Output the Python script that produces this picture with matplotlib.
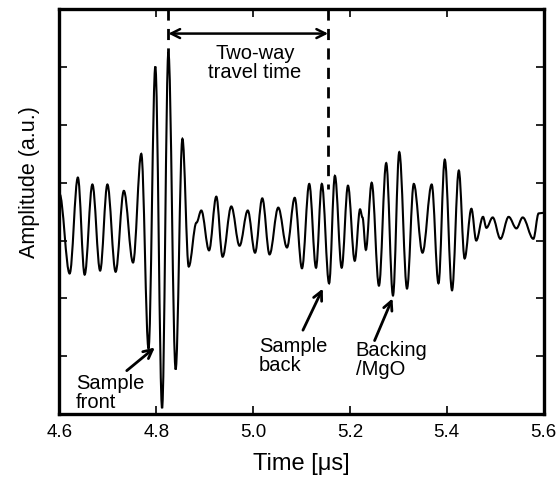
import numpy as np
import matplotlib
matplotlib.use("Agg")
import matplotlib.pyplot as plt
from matplotlib.path import Path
from matplotlib.patches import PathPatch

plt.rcParams['font.family'] = ['Liberation Sans', 'DejaVu Sans']

# waveform: extrema (and shoulders) of the trace
time_us = [4.600, 4.621, 4.638, 4.652, 4.668, 4.684, 4.699, 4.716, 4.733, 4.752,
           4.769, 4.784, 4.798, 4.812, 4.825, 4.840, 4.854, 4.867, 4.883, 4.893,
           4.909, 4.924, 4.937, 4.955, 4.972, 4.989, 5.004, 5.019, 5.034, 5.052,
           5.070, 5.086, 5.101, 5.116, 5.130, 5.142, 5.157, 5.169, 5.183, 5.196,
           5.210, 5.221, 5.226, 5.233, 5.245, 5.260, 5.275, 5.289, 5.302, 5.318,
           5.332, 5.350, 5.369, 5.383, 5.396, 5.411, 5.425, 5.437, 5.451, 5.461,
           5.475, 5.482, 5.495, 5.511, 5.528, 5.544, 5.557, 5.579, 5.590, 5.600]
amplitude = [0.81, -0.57, 1.09, -0.59, 0.97, -0.52, 0.97, -0.54, 0.86, -0.38,
             1.50, -1.87, 3.01, -2.90, 3.26, -2.23, 1.76, -0.45, 0.31, 0.52,
             -0.17, 0.76, -0.28, 0.59, -0.09, 0.52, -0.21, 0.73, -0.24, 0.57,
             -0.12, 0.74, -0.48, 0.98, -0.47, 0.98, -0.74, 1.12, -0.47, 0.95,
             -0.35, 0.54, 0.40, -0.16, 1.00, -0.78, 1.34, -0.95, 1.53, -0.83,
             0.98, -0.21, 0.97, -0.74, 1.40, -0.86, 1.21, -0.31, 0.55, 0.00,
             0.41, 0.22, 0.40, 0.03, 0.41, 0.21, 0.40, 0.03, 0.47, 0.48]

t_front = 4.825   # sample-front peak
t_back = 5.155    # sample-back trough
xticks = [4.6, 4.8, 5.0, 5.2, 5.4, 5.6]
xtick_labels = ['4.6', '4.8', '5.0', '5.2', '5.4', '5.6']
yticks = [-2, -1, 0, 1, 2, 3]


def smooth_trace(t, a):
    # cubic segments with flat tangents at each extremum
    verts = [(t[0], a[0])]
    codes = [Path.MOVETO]
    for i in range(len(t) - 1):
        dt = t[i + 1] - t[i]
        verts += [(t[i] + 0.36 * dt, a[i]), (t[i + 1] - 0.36 * dt, a[i + 1]),
                  (t[i + 1], a[i + 1])]
        codes += [Path.CURVE4] * 3
    return Path(verts, codes)


fig = plt.figure(figsize=(5.59, 4.84), dpi=100)
ax = fig.add_axes([0.1064, 0.1446, 0.8659, 0.8362])

ax.add_patch(PathPatch(smooth_trace(time_us, amplitude), facecolor='none',
                       edgecolor='black', lw=1.5, transform=ax.transData))

ax.set_xlim(4.6, 5.6)
ax.set_ylim(-3, 4)
ax.set_xticks(xticks)
ax.set_xticklabels(xtick_labels)
ax.set_yticks(yticks)
ax.set_yticklabels([])
ax.tick_params(direction='in', length=6, width=1.2, top=True, right=True,
               labelsize=13.5, pad=7)
for sp in ax.spines.values():
    sp.set_linewidth(2.4)

ax.set_xlabel('Time [μs]', fontsize=17)
ax.xaxis.set_label_coords(0.5, -0.096)
ax.set_ylabel('Amplitude (a.u.)', fontsize=15.5)
ax.yaxis.set_label_coords(-0.040, 0.573)

# two-way travel time markers
ax.plot([t_front, t_front], [4.0, 3.26], color='black', lw=2.0,
        linestyle=(0, (4, 3)), clip_on=False)
ax.plot([t_back, t_back], [4.0, 0.9], color='black', lw=2.0,
        linestyle=(0, (4, 3)))
ax.annotate('', xy=(t_front, 3.58), xytext=(t_back, 3.58),
            arrowprops=dict(arrowstyle='<->', color='black', lw=1.8,
                            shrinkA=0, shrinkB=0, mutation_scale=16))
ax.text(5.004, 3.07, 'Two-way\ntravel time', ha='center', va='center',
        fontsize=14.5, linespacing=1.0)

arrow = dict(arrowstyle='->', color='black', lw=2.0, shrinkA=0, shrinkB=0,
             mutation_scale=16)
ax.annotate('', xy=(4.797, -1.85), xytext=(4.739, -2.25), arrowprops=arrow)
ax.text(4.634, -2.63, 'Sample\nfront', ha='left', va='center', fontsize=14.5,
        linespacing=1.0)
ax.annotate('', xy=(5.144, -0.83), xytext=(5.103, -1.55), arrowprops=arrow)
ax.text(5.012, -2.0, 'Sample\nback', ha='left', va='center', fontsize=14.5,
        linespacing=1.0)
ax.annotate('', xy=(5.288, -1.0), xytext=(5.251, -1.73), arrowprops=arrow)
ax.text(5.212, -2.06, 'Backing\n/MgO', ha='left', va='center', fontsize=14.5,
        linespacing=1.0)

fig.savefig('out.png', dpi=100)
